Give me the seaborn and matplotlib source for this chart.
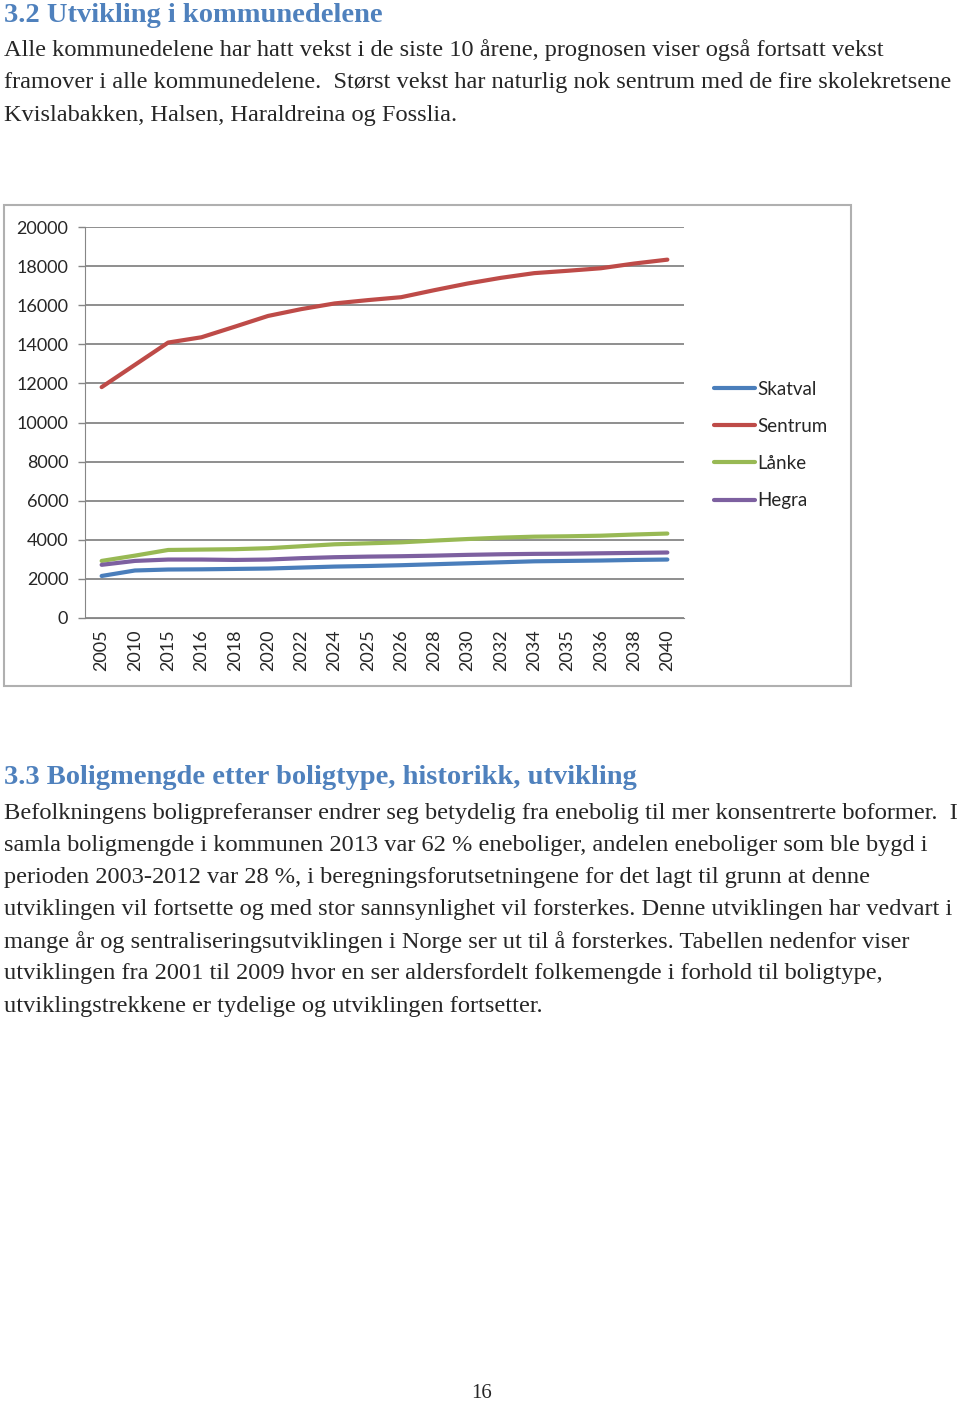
import pandas as pd
import numpy as np
import matplotlib
matplotlib.use("Agg")
import matplotlib.pyplot as plt
from matplotlib.patches import Rectangle
import seaborn as sns

years = ["2005", "2010", "2015", "2016", "2018", "2020", "2022", "2024", "2025",
         "2026", "2028", "2030", "2032", "2034", "2035", "2036", "2038", "2040"]
skatval = [2150, 2430, 2480, 2490, 2510, 2530, 2580, 2630, 2660,
           2700, 2750, 2800, 2850, 2900, 2920, 2940, 2970, 2990]
sentrum = [11810, 12950, 14090, 14360, 14900, 15450, 15800, 16090, 16260,
           16410, 16770, 17110, 17400, 17640, 17760, 17890, 18130, 18330]
lanke = [2920, 3190, 3480, 3500, 3520, 3570, 3670, 3770, 3820,
         3870, 3960, 4040, 4110, 4160, 4180, 4210, 4270, 4320]
hegra = [2720, 2920, 2990, 2990, 2970, 2990, 3060, 3110, 3140,
         3160, 3190, 3230, 3260, 3280, 3290, 3310, 3330, 3350]
series = ["Skatval", "Sentrum", "Lånke", "Hegra"]
colors = ["#4A7EBB", "#BE4B48", "#98B954", "#7D60A0"]

heading1 = "3.2 Utvikling i kommunedelene"
para1 = ["Alle kommunedelene har hatt vekst i de siste 10 årene, prognosen viser også fortsatt vekst",
         "framover i alle kommunedelene.  Størst vekst har naturlig nok sentrum med de fire skolekretsene",
         "Kvislabakken, Halsen, Haraldreina og Fosslia."]
heading2 = "3.3 Boligmengde etter boligtype, historikk, utvikling"
para2 = ["Befolkningens boligpreferanser endrer seg betydelig fra enebolig til mer konsentrerte boformer.  I",
         "samla boligmengde i kommunen 2013 var 62 % eneboliger, andelen eneboliger som ble bygd i",
         "perioden 2003-2012 var 28 %, i beregningsforutsetningene for det lagt til grunn at denne",
         "utviklingen vil fortsette og med stor sannsynlighet vil forsterkes. Denne utviklingen har vedvart i",
         "mange år og sentraliseringsutviklingen i Norge ser ut til å forsterkes. Tabellen nedenfor viser",
         "utviklingen fra 2001 til 2009 hvor en ser aldersfordelt folkemengde i forhold til boligtype,",
         "utviklingstrekkene er tydelige og utviklingen fortsetter."]
page_no = "16"

df = pd.DataFrame({"idx": np.arange(len(years)), "Skatval": skatval, "Sentrum": sentrum,
                   "Lånke": lanke, "Hegra": hegra})
long = df.melt(id_vars="idx", var_name="serie", value_name="verdi")

sns.set_style("white")
plt.rcParams["font.family"] = ["Lato", "DejaVu Sans"]

W, H = 960, 1401
fig = plt.figure(figsize=(W / 100, H / 100), dpi=100)

def fx(px):
    return px / W

def fy(py):
    return 1 - py / H

serif = ["Liberation Serif", "DejaVu Serif"]
head_col = "#4F81BD"

# page text
fig.text(fx(4), fy(15), heading1, family=serif, fontsize=20.5, fontweight="bold",
         color=head_col, va="center", ha="left")
for i, line in enumerate(para1):
    fig.text(fx(4), fy(50 + i * 32.5), line, family=serif, fontsize=17.6,
             va="center", ha="left")
fig.text(fx(4), fy(778), heading2, family=serif, fontsize=20.5, fontweight="bold",
         color=head_col, va="center", ha="left")
for i, line in enumerate(para2):
    fig.text(fx(4), fy(813 + i * 32.2), line, family=serif, fontsize=17.6,
             va="center", ha="left")
fig.text(fx(482), fy(1393), page_no, family=serif, fontsize=15, va="center", ha="center")

# chart frame
fig.patches.append(Rectangle((fx(4), fy(686)), fx(851) - fx(4), fy(205) - fy(686),
                             transform=fig.transFigure, fill=False,
                             edgecolor="#B0B0B0", linewidth=1.5))

ax = fig.add_axes([fx(85), fy(618), fx(684) - fx(85), fy(227) - fy(618)])
sns.lineplot(data=long, x="idx", y="verdi", hue="serie", hue_order=series,
             palette=colors, linewidth=3, ax=ax, legend=True)
for line in ax.lines:
    line.set_solid_capstyle("round")

ax.set_xlim(-0.5, len(years) - 0.5)
ax.set_ylim(0, 20000)
ax.set_yticks(range(0, 20001, 2000))
ax.set_yticklabels([str(v) for v in range(0, 20001, 2000)], fontsize=13)
ax.set_xticks(np.arange(len(years)))
ax.set_xticklabels(years, rotation=90, fontsize=13)
ax.set_xticks(np.arange(-0.5, len(years)), minor=True)
ax.tick_params(axis="x", which="major", length=0, pad=8)
ax.tick_params(axis="x", which="minor", length=5, color="#868686", width=1)
ax.tick_params(axis="y", length=5, color="#868686", width=1, left=True, pad=7)
ax.grid(axis="y", color="#868686", linewidth=1.3)
ax.set_axisbelow(True)
for s in ["top", "right"]:
    ax.spines[s].set_visible(False)
ax.spines["left"].set_color("#868686")
ax.spines["bottom"].set_color("#868686")
ax.set_xlabel("")
ax.set_ylabel("")

handles, labels = ax.get_legend_handles_labels()
ax.legend(handles, labels, loc="center left", bbox_to_anchor=(fx(714), fy(445)),
          bbox_transform=fig.transFigure, frameon=False, fontsize=13.5,
          handlelength=2.2, handletextpad=0.1, labelspacing=1.07, borderaxespad=0,
          borderpad=0)

fig.savefig("out.png", dpi=100)
